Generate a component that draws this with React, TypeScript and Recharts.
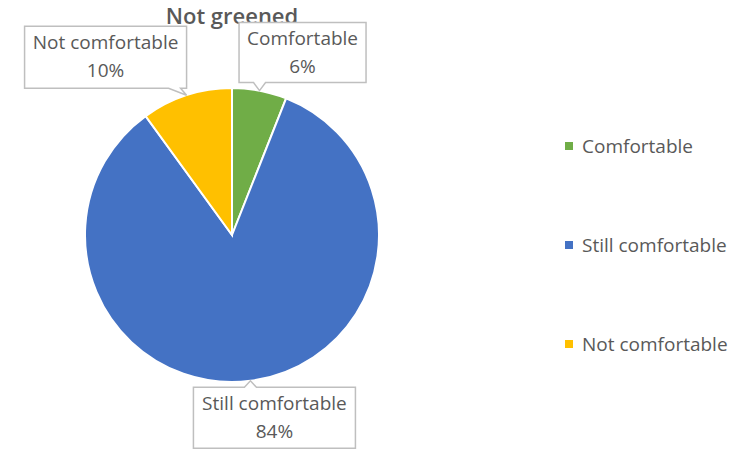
import { PieChart, Pie, Cell, Legend } from 'recharts'

const categories = ['Comfortable', 'Still comfortable', 'Not comfortable']
const shares = [6, 84, 10]
const colors = ['#70AD47', '#4472C4', '#FFC000']
const title = 'Not greened'

const data = categories.map((name, i) => ({ name, value: shares[i] }))

// callout box placement relative to the slice edge (box center offset, size)
const callouts: Record<string, { dx: number; dy: number; w: number; h: number }> = {
  'Comfortable': { dx: 43, dy: -38, w: 127, h: 60 },
  'Still comfortable': { dx: 24, dy: 37, w: 162, h: 61 },
  'Not comfortable': { dx: -81, dy: -38, w: 162, h: 62 },
}

const FONT = '"Open Sans", Lato, sans-serif'
const RAD = Math.PI / 180

function CalloutLabel(props: any) {
  const { cx, cy, midAngle, outerRadius, name, value } = props
  const tx = cx + outerRadius * Math.cos(-midAngle * RAD)
  const ty = cy + outerRadius * Math.sin(-midAngle * RAD)
  const c = callouts[name]
  const bx = tx + c.dx
  const by = ty + c.dy
  const l = bx - c.w / 2
  const r = bx + c.w / 2
  const t = by - c.h / 2
  const b = by + c.h / 2
  const px = Math.min(Math.max(tx, l + 12), r - 12)
  let d: string
  if (ty > b) {
    d = `M${l},${t} L${r},${t} L${r},${b} L${px + 6},${b} L${tx},${ty} L${px - 6},${b} L${l},${b} Z`
  } else {
    d = `M${l},${t} L${px - 6},${t} L${tx},${ty} L${px + 6},${t} L${r},${t} L${r},${b} L${l},${b} Z`
  }
  return (
    <g>
      <path d={d} fill="#ffffff" stroke="#bfbfbf" strokeWidth={1.5} />
      <text x={bx} y={by - 8} textAnchor="middle" fill="#595959" fontSize={19} fontFamily={FONT}>
        {name}
      </text>
      <text x={bx} y={by + 20} textAnchor="middle" fill="#595959" fontSize={19} fontFamily={FONT}>
        {value}%
      </text>
    </g>
  )
}

function LegendBox(props: any) {
  const items = [...(props.payload || [])].sort(
    (a: any, b: any) => categories.indexOf(a.value) - categories.indexOf(b.value)
  )
  return (
    <div style={{ fontFamily: FONT, fontSize: 19, color: '#595959' }}>
      {items.map((entry: any, i: number) => (
        <div key={i} style={{ display: 'flex', alignItems: 'center', height: 99 }}>
          <span style={{ width: 8, height: 8, background: entry.color, marginRight: 9, display: 'inline-block' }} />
          <span>{entry.value}</span>
        </div>
      ))}
    </div>
  )
}

export default function App() {
  return (
    <div style={{ position: 'absolute', left: 0, top: 0, width: 753, height: 450, background: '#ffffff' }}>
      <div
        style={{
          position: 'absolute',
          left: 0,
          width: 464,
          top: 0,
          textAlign: 'center',
          fontFamily: FONT,
          fontSize: 22,
          fontWeight: 600,
          color: '#595959',
        }}
      >
        {title}
      </div>
      <PieChart width={753} height={450} margin={{ top: 0, right: 0, bottom: 0, left: 0 }}>
        <Pie
          data={data}
          dataKey="value"
          nameKey="name"
          cx={232}
          cy={235}
          outerRadius={147}
          startAngle={90}
          endAngle={-270}
          stroke="#ffffff"
          strokeWidth={2}
          label={CalloutLabel}
          labelLine={false}
          isAnimationActive={false}
        >
          {data.map((d, i) => (
            <Cell key={d.name} fill={colors[i]} />
          ))}
        </Pie>
        <Legend
          layout="vertical"
          verticalAlign="top"
          align="right"
          content={LegendBox}
          wrapperStyle={{ left: 565, top: 96, width: 180 }}
        />
      </PieChart>
    </div>
  )
}
